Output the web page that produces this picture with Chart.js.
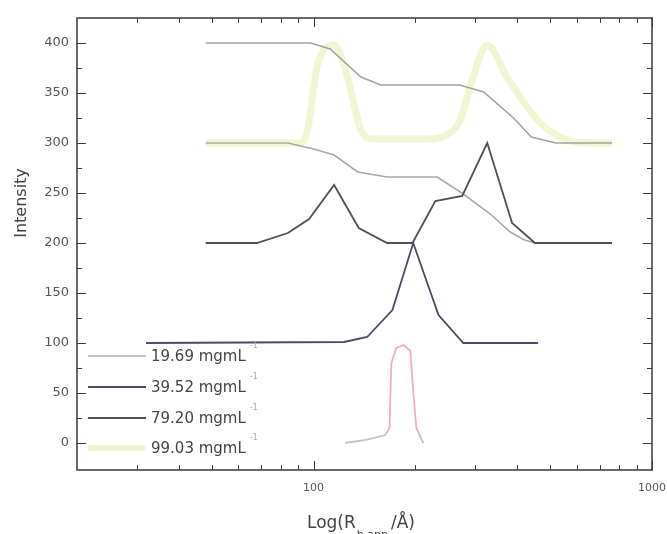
<!DOCTYPE html>
<html>
<head>
<meta charset="utf-8">
<script src="https://cdn.jsdelivr.net/npm/chart.js@4.4.0/dist/chart.umd.min.js"></script>
<style>
    html, body { margin: 0; padding: 0; background: #fff; }
    #chart { display: block; }
</style>
</head>
<body>
<canvas id="chart" width="667" height="534"></canvas>
<script>
// Legend labels (the "-1" exponent is drawn as a superscript)
const seriesLabels = ['19.69 mgmL', '39.52 mgmL', '79.20 mgmL', '99.03 mgmL'];

// 19.69 mgmL-1, baseline 0
const r1969 = [124, 142, 163, 167.6, 169.8, 175.7, 184.5, 193.2, 197.2, 201.3, 211];
const i1969 = [0, 3, 8, 15, 80, 95, 98, 92, 50, 15, 0];

// 39.52 mgmL-1, offset 100
const r3952 = [32, 123, 144, 171, 197, 234, 277, 461];
const i3952 = [100, 101, 106, 133, 200, 128, 100, 100];

// 79.20 mgmL-1, offset 200
const r7920 = [48, 68, 84, 97, 115, 136, 165, 196, 229, 275, 326, 386, 451, 762];
const i7920 = [200, 200, 210, 224, 258, 215, 200, 200, 242, 247, 300, 220, 200, 200];

// 99.03 mgmL-1, offset 300
const r9903 = [48, 92, 96, 103, 115, 126, 138, 150, 220, 240, 271, 296, 326, 373, 428, 467, 561, 650, 762];
const i9903 = [300, 300, 313, 380, 398, 366, 313, 304, 304, 306, 323, 366, 398, 366, 336, 320, 303, 300, 300];

// grey cumulative curves (not in the legend)
const rCumA = [48, 98, 112, 138, 158, 270, 318, 390, 440, 520, 762];
const iCumA = [400, 400, 394, 366, 358, 358, 351, 325, 306, 300, 300];
const rCumB = [48, 84, 100, 115, 135, 165, 232, 277, 333, 381, 420, 451, 762];
const iCumB = [300, 300, 294, 288, 271, 266, 266, 249, 229, 211, 203, 200, 200];

// axis ticks
const xLabelTicks = [100, 1000];
const xMinorTicks = [30, 40, 50, 60, 70, 80, 90, 200, 300, 400, 500, 600, 700, 800, 900];
const yLabelTicks = [0, 50, 100, 150, 200, 250, 300, 350, 400];
const yMinorTicks = [25, 75, 125, 175, 225, 275, 325, 375];

function pts(xs, ys) {
    return xs.map(function (v, i) { return { x: v, y: ys[i] }; });
}

Chart.defaults.font.family = "'DejaVu Sans', sans-serif";

// frame, inward ticks, legend and axis titles
const decorations = {
    id: 'decorations',
    afterDraw: function (chart) {
        const ctx = chart.ctx;
        const a = chart.chartArea;
        const x = chart.scales.x;
        const y = chart.scales.y;
        ctx.save();

        ctx.strokeStyle = '#3a3a3a';
        ctx.lineWidth = 1.5;
        ctx.strokeRect(a.left, a.top, a.right - a.left, a.bottom - a.top);

        ctx.lineWidth = 1;
        ctx.beginPath();
        xLabelTicks.concat(xMinorTicks).forEach(function (v) {
            const px = Math.round(x.getPixelForValue(v)) + 0.5;
            const len = xLabelTicks.includes(v) ? 9 : 5;
            ctx.moveTo(px, a.bottom); ctx.lineTo(px, a.bottom - len);
            ctx.moveTo(px, a.top); ctx.lineTo(px, a.top + len);
        });
        yLabelTicks.concat(yMinorTicks).forEach(function (v) {
            const py = Math.round(y.getPixelForValue(v)) + 0.5;
            const len = yLabelTicks.includes(v) ? 9 : 5;
            ctx.moveTo(a.left, py); ctx.lineTo(a.left + len, py);
            ctx.moveTo(a.right, py); ctx.lineTo(a.right - len, py);
        });
        ctx.stroke();

        // legend inside the plot
        const legendY = [356, 387, 418, 448];
        seriesLabels.forEach(function (label, i) {
            const ds = chart.data.datasets[i];
            ctx.strokeStyle = ds.legendColor;
            ctx.lineWidth = i === 3 ? 6 : 1.8;
            ctx.beginPath();
            ctx.moveTo(88, legendY[i]);
            ctx.lineTo(146, legendY[i]);
            ctx.stroke();
            ctx.fillStyle = '#444';
            ctx.font = "15px 'DejaVu Sans'";
            ctx.textBaseline = 'middle';
            ctx.textAlign = 'left';
            ctx.fillText(label, 151, legendY[i] + 1);
            const w = ctx.measureText(label).width;
            ctx.fillStyle = '#aaa';
            ctx.font = "8px 'DejaVu Sans'";
            ctx.fillText('-1', 151 + w + 4, legendY[i] - 10);
        });

        // y title
        ctx.fillStyle = '#444';
        ctx.font = "16px 'DejaVu Sans'";
        ctx.textAlign = 'center';
        ctx.textBaseline = 'middle';
        ctx.save();
        ctx.translate(22, 203);
        ctx.rotate(-Math.PI / 2);
        ctx.fillText('Intensity', 0, 0);
        ctx.restore();

        // x title: Log(R h,app /Å)
        ctx.textAlign = 'left';
        ctx.textBaseline = 'alphabetic';
        ctx.font = "17px 'DejaVu Sans'";
        let cx = 307;
        ctx.fillText('Log(R', cx, 528);
        cx += ctx.measureText('Log(R').width + 1;
        ctx.font = "11px 'DejaVu Sans'";
        ctx.fillText('h,app', cx, 538);
        cx += ctx.measureText('h,app').width + 3;
        ctx.font = "17px 'DejaVu Sans'";
        ctx.fillText('/Å)', cx, 528);

        ctx.restore();
    }
};

const ctx = document.getElementById('chart').getContext('2d');
const chart = new Chart(ctx, {
    type: 'line',
    data: {
        datasets: [
            {
                label: seriesLabels[0],
                data: pts(r1969, i1969),
                borderColor: '#c4c4c4',
                legendColor: '#c4c4c4',
                borderWidth: 1.8,
                segment: {
                    borderColor: function (c) {
                        return (c.p0.parsed.y > 12 && c.p1.parsed.y > 12) ? '#f0aebc' : '#c4c4c4';
                    }
                },
                order: 3
            },
            {
                label: seriesLabels[1],
                data: pts(r3952, i3952),
                borderColor: '#474b66',
                legendColor: '#474b66',
                borderWidth: 1.8,
                order: 1
            },
            {
                label: seriesLabels[2],
                data: pts(r7920, i7920),
                borderColor: '#505050',
                legendColor: '#505050',
                borderWidth: 1.8,
                order: 2
            },
            {
                label: seriesLabels[3],
                data: pts(r9903, i9903),
                borderColor: '#f1f5d4',
                legendColor: '#eff3d0',
                borderWidth: 7,
                cubicInterpolationMode: 'monotone',
                order: 10
            },
            {
                label: 'cumA',
                data: pts(rCumA, iCumA),
                borderColor: '#a2a2a2',
                borderWidth: 1.6,
                order: 5
            },
            {
                label: 'cumB',
                data: pts(rCumB, iCumB),
                borderColor: '#a8a8a8',
                borderWidth: 1.6,
                order: 5
            }
        ]
    },
    options: {
        responsive: false,
        animation: false,
        devicePixelRatio: 1,
        layout: { padding: { left: 0, right: 15, top: 18, bottom: 0 } },
        elements: { point: { radius: 0 }, line: { tension: 0 } },
        plugins: {
            legend: { display: false },
            tooltip: { enabled: false }
        },
        scales: {
            x: {
                type: 'logarithmic',
                min: 20,
                max: 1000,
                grid: { display: false, drawTicks: false },
                border: { display: false },
                afterBuildTicks: function (scale) {
                    scale.ticks = xLabelTicks.map(function (v) { return { value: v }; });
                },
                afterFit: function (scale) {
                    scale.height = 64;
                    scale.paddingLeft = 0;
                    scale.paddingRight = 0;
                },
                ticks: {
                    autoSkip: false,
                    maxRotation: 0,
                    padding: 12,
                    color: '#555',
                    font: { size: 11 },
                    callback: function (value) { return String(value); }
                }
            },
            y: {
                type: 'linear',
                min: -27,
                max: 425,
                grid: { display: false, drawTicks: false },
                border: { display: false },
                afterBuildTicks: function (scale) {
                    scale.ticks = yLabelTicks.map(function (v) { return { value: v }; });
                },
                afterFit: function (scale) {
                    scale.width = 77;
                    scale.paddingTop = 0;
                    scale.paddingBottom = 0;
                },
                ticks: {
                    padding: 8,
                    color: '#555',
                    font: { size: 13 },
                    callback: function (value) { return String(value); }
                }
            }
        }
    },
    plugins: [decorations]
});
</script>
</body>
</html>
